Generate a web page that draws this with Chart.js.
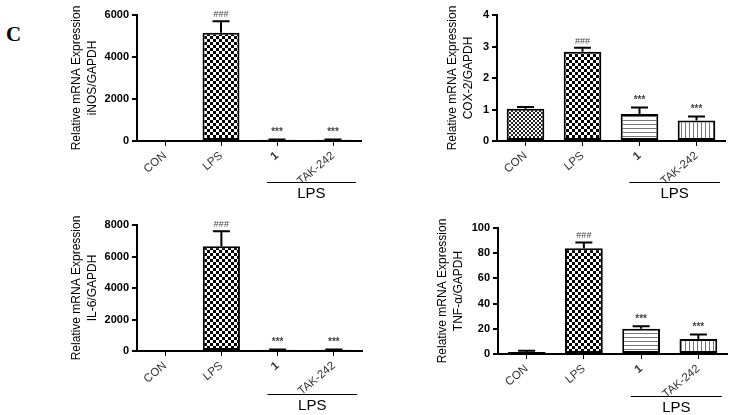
<!DOCTYPE html>
<html>
<head>
<meta charset="utf-8">
<script src="https://cdn.jsdelivr.net/npm/chart.js@4.4.0/dist/chart.umd.min.js"></script>
<style>
  body { margin: 0; background: #fff; }
  #wrap { position: relative; width: 730px; height: 415px; overflow: hidden; }
  canvas { position: absolute; }
  #lbl { position: absolute; left: 6px; top: 22px; font: bold 21px "Liberation Serif", "DejaVu Serif", serif; }
</style>
</head>
<body>
<div id="wrap">
  <div id="lbl">C</div>
  <canvas id="c1" width="365" height="205" style="left:0;top:0"></canvas>
  <canvas id="c2" width="365" height="205" style="left:365px;top:0"></canvas>
  <canvas id="c3" width="365" height="210" style="left:0;top:205px"></canvas>
  <canvas id="c4" width="365" height="210" style="left:365px;top:205px"></canvas>
</div>
<script>
// groups on the x axis
var groups = ["CON", "LPS", "1", "TAK-242"];
var marks = ["", "###", "***", "***"];

// iNOS
var inosMean = [1, 5150, 60, 60];
var inosErr = [0, 550, 15, 15];
var inosMax = 6000, inosStep = 2000;

// COX-2
var coxMean = [1.02, 2.83, 0.86, 0.65];
var coxErr = [0.06, 0.13, 0.2, 0.13];
var coxMax = 4, coxStep = 1;

// IL-6
var il6Mean = [1, 6650, 80, 80];
var il6Err = [0, 950, 20, 20];
var il6Max = 8000, il6Step = 2000;

// TNF-a
var tnfMean = [1.5, 84, 20, 12];
var tnfErr = [1, 4.5, 2, 3.5];
var tnfMax = 100, tnfStep = 20;

var sans = "'Liberation Sans', Arial, sans-serif";

function makePattern(kind) {
  var c = document.createElement("canvas");
  var g = c.getContext("2d");
  if (kind == "fine") {
    c.width = 4; c.height = 4;
    g.fillStyle = "#fff"; g.fillRect(0, 0, 4, 4);
    g.fillStyle = "#222";
    g.fillRect(0, 0, 2, 2); g.fillRect(2, 2, 2, 2);
  } else if (kind == "check") {
    c.width = 6; c.height = 6;
    g.fillStyle = "#fff"; g.fillRect(0, 0, 6, 6);
    g.fillStyle = "#000";
    g.fillRect(0, 0, 3, 3); g.fillRect(3, 3, 3, 3);
  } else if (kind == "hstripe") {
    c.width = 4; c.height = 4;
    g.fillStyle = "#fff"; g.fillRect(0, 0, 4, 4);
    g.fillStyle = "#777"; g.fillRect(0, 0, 4, 1);
  } else {
    c.width = 4; c.height = 4;
    g.fillStyle = "#fff"; g.fillRect(0, 0, 4, 4);
    g.fillStyle = "#777"; g.fillRect(0, 0, 1, 4);
  }
  return c.getContext("2d").createPattern(c, "repeat");
}

var fills = [makePattern("fine"), makePattern("check"), makePattern("hstripe"), makePattern("vstripe")];

// error bars, stars and the LPS bracket
var extras = {
  id: "extras",
  afterDatasetsDraw: function (chart) {
    var ctx = chart.ctx;
    var xs = chart.scales.x, ys = chart.scales.y;
    var p = chart.options.plugins.extras;
    var meta = chart.getDatasetMeta(0);
    ctx.save();
    meta.data.forEach(function (bar, i) {
      var top = ys.getPixelForValue(p.mean[i] + p.err[i]);
      if (p.err[i] > 0) {
        ctx.strokeStyle = "#000";
        ctx.lineWidth = 2;
        ctx.beginPath();
        ctx.moveTo(bar.x, bar.y);
        ctx.lineTo(bar.x, top);
        ctx.moveTo(bar.x - 8.5, top);
        ctx.lineTo(bar.x + 8.5, top);
        ctx.stroke();
      }
      if (marks[i]) {
        ctx.fillStyle = "#444";
        ctx.font = (marks[i] == "***" ? "bold 10px " : "9px ") + sans;
        ctx.textAlign = "center";
        ctx.textBaseline = "bottom";
        ctx.fillText(marks[i], bar.x, Math.min(top, bar.y) - 2);
      }
    });
    var step = xs.getPixelForValue(1) - xs.getPixelForValue(0);
    var x0 = xs.getPixelForValue(2) - 0.18 * step;
    var x1 = xs.getPixelForValue(3) + 0.41 * step;
    var ly = chart.chartArea.bottom + p.bracket;
    ctx.strokeStyle = "#000";
    ctx.lineWidth = 1;
    ctx.beginPath();
    ctx.moveTo(x0, ly + 0.5);
    ctx.lineTo(x1, ly + 0.5);
    ctx.stroke();
    ctx.fillStyle = "#000";
    ctx.font = "15px " + sans;
    ctx.textAlign = "center";
    ctx.textBaseline = "top";
    ctx.fillText("LPS", (x0 + x1) / 2, ly + 4);
    ctx.restore();
  }
};

function makeChart(id, mean, err, yMax, yStep, title, geo) {
  var cv = document.getElementById(id);
  return new Chart(cv, {
    type: "bar",
    data: {
      labels: groups,
      datasets: [{
        data: mean,
        backgroundColor: fills,
        borderColor: "#000",
        borderWidth: 2,
        borderSkipped: false,
        barPercentage: 0.66,
        categoryPercentage: 1
      }]
    },
    options: {
      responsive: false,
      animation: false,
      layout: { padding: { left: 0, top: geo.top, right: cv.width - geo.right, bottom: 0 } },
      plugins: {
        legend: { display: false },
        tooltip: { enabled: false },
        extras: { mean: mean, err: err, bracket: geo.bracket }
      },
      scales: {
        x: {
          afterFit: function (s) { s.height = cv.height - geo.bottom; },
          border: { color: "#000", width: 2 },
          grid: { offset: false, drawOnChartArea: false, tickLength: 5, color: "#000", lineWidth: 1 },
          ticks: {
            minRotation: 40, maxRotation: 40, padding: 3, color: "#333",
            font: function (c) {
              return { family: sans, size: 11.5, weight: c.index == 2 ? "bold" : "normal" };
            }
          }
        },
        y: {
          min: 0, max: yMax,
          afterFit: function (s) { s.width = geo.axis; },
          border: { color: "#000", width: 2 },
          grid: { drawOnChartArea: false, tickLength: 5, color: "#000", lineWidth: 2 },
          ticks: {
            stepSize: yStep, padding: 3, color: "#000",
            callback: function (v) { return String(v); },
            font: { family: sans, size: 11, weight: "bold" }
          },
          title: {
            display: true,
            text: ["Relative mRNA Expression", title],
            color: "#000",
            font: { family: sans, size: 12, lineHeight: 1.33 },
            padding: { top: geo.title - 8, bottom: 0 }
          }
        }
      }
    },
    plugins: [extras]
  });
}

makeChart("c1", inosMean, inosErr, inosMax, inosStep, "iNOS/GAPDH",
  { axis: 137, top: 15, bottom: 141, right: 361, title: 77, bracket: 41 });
makeChart("c2", coxMean, coxErr, coxMax, coxStep, "COX-2/GAPDH",
  { axis: 132, top: 15, bottom: 141, right: 360, title: 88, bracket: 41 });
makeChart("c3", il6Mean, il6Err, il6Max, il6Step, "IL-6/GAPDH",
  { axis: 137, top: 20, bottom: 146, right: 362, title: 77, bracket: 43 });
makeChart("c4", tnfMean, tnfErr, tnfMax, tnfStep, "TNF-\u03b1/GAPDH",
  { axis: 133, top: 23, bottom: 149, right: 362, title: 78, bracket: 42 });
</script>
</body>
</html>
